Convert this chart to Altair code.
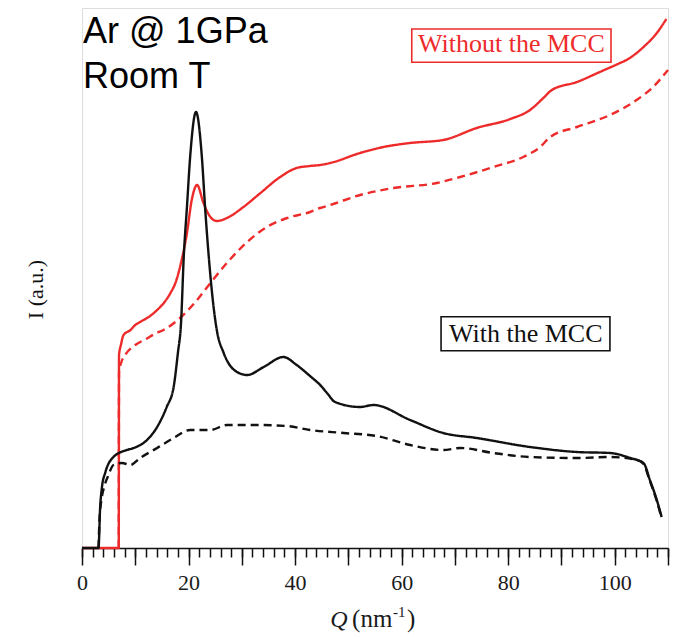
import altair as alt
import pandas as pd

# ---- data (Q in nm^-1, intensity in arbitrary units) ----
red_solid_q = [0, 6.9, 6.95, 7.3, 7.8, 9.1, 10.0, 10.9, 12.5, 14.1, 15.5, 16.6, 17.6, 18.4, 19.7, 20.6,
               21.6, 22.8, 24.1, 25.3, 27.2, 30.3, 33.5, 37.2, 40.3, 42.8, 44.7, 46.6, 52.2, 56.6,
               61.6, 67.8, 74.1, 80.4, 84.1, 86.6, 88.2, 92.9, 97.2, 101.0, 102.2, 105.4, 107.9, 109.7]
red_solid_i = [0, 0, 193, 203, 213, 218, 223, 226, 231, 238, 246, 255, 266, 281, 315, 348,
               363, 345, 331, 327, 330, 341, 355, 371, 380, 382, 383, 385, 395, 401,
               405, 408, 420, 429, 438, 450, 458, 466, 476, 485, 488, 501, 515, 529]

red_dash_q = [6.9, 6.95, 7.4, 8.1, 10.0, 12.0, 14.0, 15.3, 18.4, 21.6, 24.1, 27.2, 31.0, 34.7, 38.5,
              42.8, 44.7, 46.6, 52.2, 58.5, 66.6, 71.0, 77.2, 82.8, 86.0, 87.9, 92.9, 99.1,
              104.1, 107.2, 110.0]
red_dash_i = [0, 176, 186, 193, 203, 209, 215, 218, 230, 248, 265, 285, 306, 321, 330,
              336, 340, 343, 353, 360, 365, 371, 381, 391, 401, 411, 421, 433,
              448, 461, 478]

black_solid_q = [0, 3.1, 3.4, 3.75, 4.4, 5.9, 8.4, 9.7, 12.2, 14.1, 15.9, 17.2, 18.0, 18.6, 19.1,
                 19.7, 20.3, 21.4, 22.5, 23.1, 23.8, 24.7, 25.3, 26.6, 29.1, 31.0, 34.1, 37.8,
                 40.3, 42.8, 44.7, 46.0, 47.5, 52.2, 54.7, 61.6, 67.8, 74.1, 84.1, 92.9, 99.1,
                 102.9, 105.4, 106.6, 107.9, 108.8]
black_solid_i = [0, 0, 40, 61, 76, 91, 98, 100, 108, 121, 141, 161, 195, 226, 291,
                 341, 391, 436, 391, 341, 291, 241, 218, 195, 176, 173, 181, 191,
                 183, 172, 163, 155, 146, 141, 143, 128, 115, 110, 101, 96, 95,
                 90, 85, 68, 48, 31]

black_dash_q = [3.1, 3.3, 3.7, 4.2, 4.9, 5.9, 7.5, 9.1, 10.9, 14.1, 17.2, 20.3, 24.1, 27.2, 32.8,
                38.5, 42.8, 49.1, 55.3, 61.6, 67.8, 71.0, 77.2, 84.1, 92.9, 99.1, 104.1,
                105.4, 106.6, 107.9, 108.8]
black_dash_i = [0, 30, 50, 62, 72, 83, 85, 83, 90, 100, 110, 118, 118, 123, 123,
                122, 118, 115, 112, 103, 98, 100, 95, 91, 90, 91, 88,
                84, 67, 47, 30]

series_names = ["Without MCC (solid)", "Without MCC (dashed)", "With MCC (solid)", "With MCC (dashed)"]
series_colors = ["#ee2b2b", "#ee2b2b", "#111111", "#111111"]
series_dash = [[1, 0], [8, 5], [1, 0], [8, 5]]

rows = []
for name, qs, ys in zip(series_names,
                        [red_solid_q, red_dash_q, black_solid_q, black_dash_q],
                        [red_solid_i, red_dash_i, black_solid_i, black_dash_i]):
    for k, (q, v) in enumerate(zip(qs, ys)):
        rows.append({"series": name, "Q": q, "I": v, "order": k})
df = pd.DataFrame(rows)

XDOM = [0, 110]
YDOM = [0, 540]
xs = alt.Scale(domain=XDOM, nice=False, zero=False)
ys_ = alt.Scale(domain=YDOM, nice=False, zero=False)

W, H = 586, 540

lines = alt.Chart(df).mark_line(strokeWidth=2.4, interpolate="monotone").encode(
    x=alt.X("Q:Q", scale=xs,
            axis=alt.Axis(orient="bottom", values=list(range(0, 111, 2)), tickSize=9, tickWidth=1.5,
                          tickColor="#111", labels=False, grid=False, domain=True,
                          domainColor="#111", domainWidth=1.5, title=None)),
    y=alt.Y("I:Q", scale=ys_,
            axis=alt.Axis(orient="left", labels=False, ticks=False, grid=False, domain=False,
                          title="I (a.u.)", titleFont="Liberation Serif", titleFontSize=22,
                          titleFontWeight="normal", titleColor="#111",
                          titleX=-47, titleY=281, titleAngle=-90,
                          titleAlign="center", titleBaseline="middle")),
    color=alt.Color("series:N", scale=alt.Scale(domain=series_names, range=series_colors), legend=None),
    strokeDash=alt.StrokeDash("series:N", scale=alt.Scale(domain=series_names, range=series_dash), legend=None),
    detail="series:N",
    order="order:Q",
)

# major ticks + labels axis (invisible mark)
major_df = pd.DataFrame({"Q": [0, 110], "I": [0, 0]})
major = alt.Chart(major_df).mark_point(opacity=0).encode(
    x=alt.X("Q:Q", scale=xs,
            axis=alt.Axis(orient="bottom", values=list(range(0, 111, 10)), tickSize=17, tickWidth=1.5,
                          tickColor="#111", domain=False, grid=False, title=None,
                          labelExpr="datum.value % 20 === 0 ? datum.label : ''",
                          labelFont="Liberation Serif", labelFontSize=22, labelColor="#1a1a1a",
                          labelPadding=7, labelFlush=False)),
    y=alt.Y("I:Q", scale=ys_, axis=None),
)

# legend boxes
box_label = ["Without the MCC", "With the MCC"]
box_q1 = [61.9, 67.4]
box_q2 = [99.3, 99.1]
box_i1 = [485.7, 197.3]
box_i2 = [519.0, 231.3]
box_text_q = [80.6, 83.3]
box_text_i = [496.5, 206.5]
box_color = ["#ee2b2b", "#111111"]
boxes_df = pd.DataFrame({"label": box_label, "q1": box_q1, "q2": box_q2, "i1": box_i1,
                         "i2": box_i2, "tq": box_text_q, "ti": box_text_i, "col": box_color})
boxes = alt.Chart(boxes_df).mark_rect(fill="white", strokeWidth=1.6).encode(
    x=alt.X("q1:Q", scale=xs, axis=None), x2="q2:Q",
    y=alt.Y("i1:Q", scale=ys_, axis=None), y2="i2:Q",
    stroke=alt.Stroke("col:N", scale=None),
)
box_texts = alt.Chart(boxes_df).mark_text(font="Liberation Serif", fontSize=26, align="center",
                                          baseline="alphabetic").encode(
    x=alt.X("tq:Q", scale=xs, axis=None),
    y=alt.Y("ti:Q", scale=ys_, axis=None),
    text="label:N",
    color=alt.Color("col:N", scale=None),
)

# top-left annotation
ann_text = ["Ar @ 1GPa", "Room T"]
ann_q = [0.2, 0.2]
ann_i = [505.5, 459.7]
ann_df = pd.DataFrame({"t": ann_text, "q": ann_q, "i": ann_i})
ann = alt.Chart(ann_df).mark_text(font="Liberation Sans", fontSize=36, align="left",
                                  baseline="alphabetic", color="#000").encode(
    x=alt.X("q:Q", scale=xs, axis=None),
    y=alt.Y("i:Q", scale=ys_, axis=None),
    text="t:N",
)

# x-axis title built from parts (italic Q, superscript -1)
xt_text = ["Q", "(nm", "-1", ")"]
xt_q = [46.6, 50.7, 58.4, 61.0]
xt_i = [-79, -79, -69, -79]
xt_size = [24, 25, 15, 25]
xt_style = ["italic", "normal", "normal", "normal"]
xt_df = pd.DataFrame({"t": xt_text, "q": xt_q, "i": xt_i, "s": xt_size, "st": xt_style})
xt_parts = []
for st in ["italic", "normal"]:
    sub = xt_df[xt_df["st"] == st]
    for sz in sorted(sub["s"].unique()):
        part = sub[sub["s"] == sz]
        xt_parts.append(
            alt.Chart(part).mark_text(font="Liberation Serif", fontSize=int(sz), fontStyle=st,
                                      align="left", baseline="alphabetic", color="#1a1a1a").encode(
                x=alt.X("q:Q", scale=xs, axis=None),
                y=alt.Y("i:Q", scale=ys_, axis=None),
                text="t:N",
            )
        )

chart = alt.layer(lines, major, boxes, box_texts, ann, *xt_parts).resolve_axis(
    x="independent", y="independent"
).properties(
    width=W, height=H,
    autosize=alt.AutoSizeParams(type="none"),
    padding={"left": 82, "top": 8, "right": 10, "bottom": 89},
).configure_view(stroke="#222", strokeWidth=1.6).configure(background="white")

chart.save("out.html", embed_options={"renderer": "svg", "actions": False})
